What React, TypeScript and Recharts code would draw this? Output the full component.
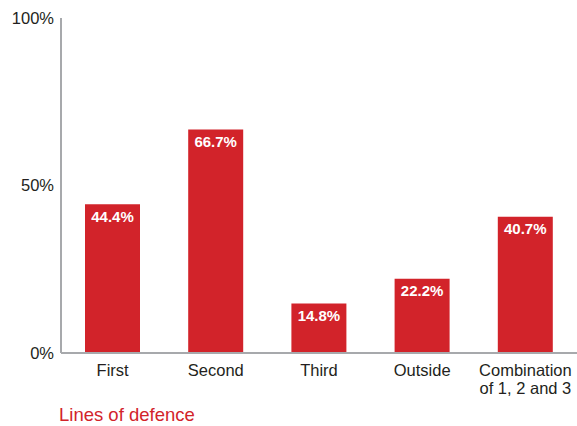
import { BarChart, Bar, XAxis, YAxis, LabelList } from 'recharts';

const categories = ['First', 'Second', 'Third', 'Outside', 'Combination\nof 1, 2 and 3'];
const shares = [44.4, 66.7, 14.8, 22.2, 40.7];
const yTicks = [0, 50, 100];

const RED = '#d2232a';
const AXIS = '#a7a9ac';
const TEXT = '#231f20';
const FONT = '"Liberation Sans", Arial, Helvetica, sans-serif';

const chartData = categories.map((name, i) => ({ name, share: shares[i] }));

// category labels may run over two lines
const CategoryTick = (props: any) => {
  const { x, y, payload } = props;
  const lines = String(payload.value).split('\n');
  return (
    <text x={x} y={y} textAnchor="middle" fill={TEXT} fontSize={16.5} fontFamily={FONT}>
      {lines.map((line, i) => (
        <tspan key={i} x={x} dy={i === 0 ? 23 : 17.5}>
          {line}
        </tspan>
      ))}
    </text>
  );
};

export default function App() {
  return (
    <div style={{ position: 'absolute', left: 0, top: 0, width: 577, height: 426, background: '#fff' }}>
      <BarChart
        width={577}
        height={426}
        data={chartData}
        margin={{ top: 18, right: 0, left: 0, bottom: 33 }}
      >
        <XAxis
          dataKey="name"
          height={40}
          tickLine={false}
          tickSize={0}
          tickMargin={0}
          stroke={AXIS}
          strokeWidth={2}
          interval={0}
          tick={<CategoryTick />}
        />
        <YAxis
          width={61}
          domain={[0, 100]}
          ticks={yTicks}
          tickFormatter={(v: number) => `${v}%`}
          tickLine={false}
          tickSize={0}
          tickMargin={7}
          stroke={AXIS}
          strokeWidth={2}
          tick={{ fill: TEXT, fontSize: 16.5, fontFamily: FONT }}
        />
        <Bar dataKey="share" fill={RED} barSize={55} isAnimationActive={false}>
          <LabelList
            dataKey="share"
            position="insideTop"
            offset={7}
            formatter={(v: any) => `${Number(v).toFixed(1)}%`}
            fill="#fff"
            fontSize={15}
            fontWeight="bold"
            fontFamily={FONT}
          />
        </Bar>
      </BarChart>
      <div
        style={{
          position: 'absolute',
          left: 59,
          top: 406,
          fontSize: 18.5,
          lineHeight: 1,
          color: RED,
          fontFamily: FONT,
        }}
      >
        Lines of defence
      </div>
    </div>
  );
}
